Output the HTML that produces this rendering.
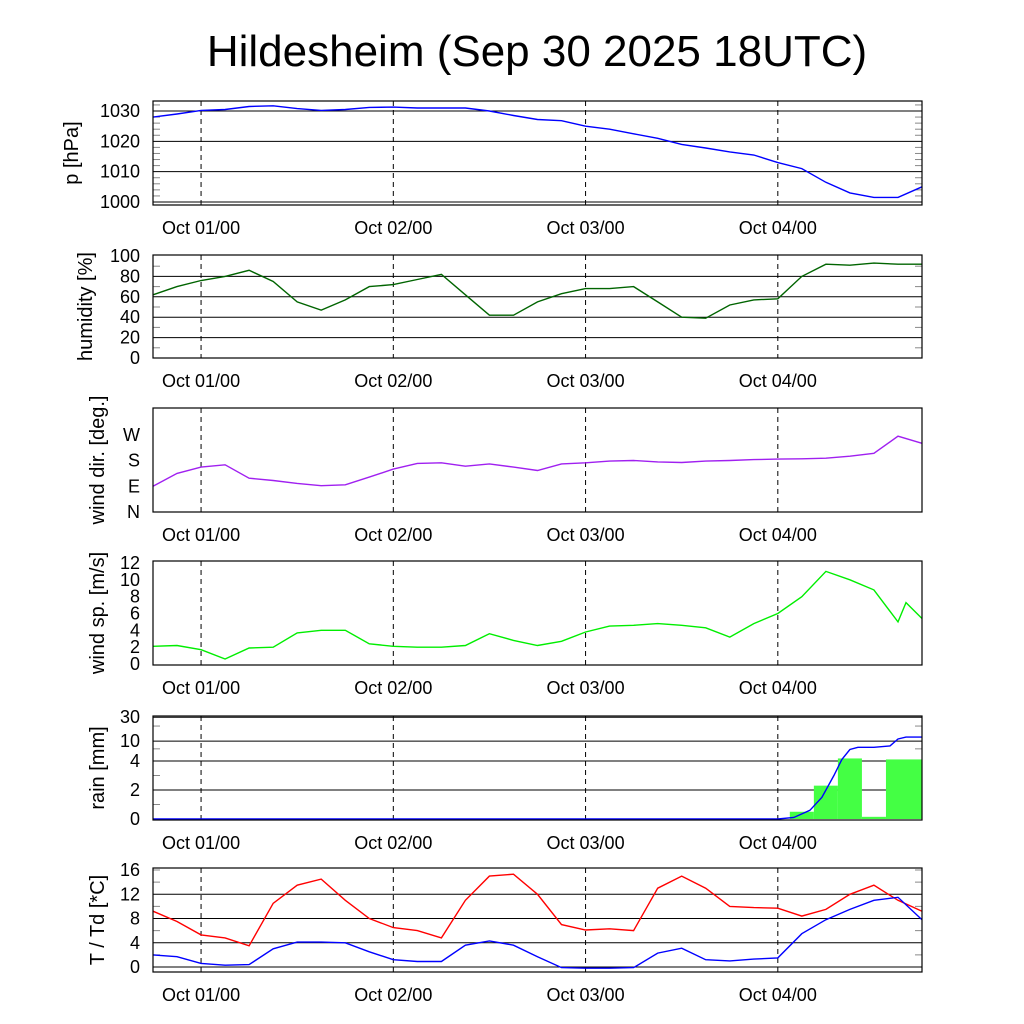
<!DOCTYPE html>
<html><head><meta charset="utf-8">
<style>
body{margin:0;background:#fff;}
svg{display:block;font-family:"Liberation Sans",sans-serif;}
</style></head>
<body>
<svg id="chart" width="1024" height="1024" viewBox="0 0 1024 1024" xmlns="http://www.w3.org/2000/svg">
<text x="537" y="66" font-size="44" text-anchor="middle">Hildesheim (Sep 30 2025 18UTC)</text>
</svg>
<script>
// hours since Sep 30 18UTC
const hours = [0,3,6,9,12,15,18,21,24,27,30,33,36,39,42,45,48,51,54,57,60,63,66,69,72,75,78,81,84,87,90,93,96];
const pressure = [1028,1029,1030.2,1030.5,1031.5,1031.7,1030.8,1030.2,1030.5,1031.2,1031.3,1031,1031,1031,1030,1028.5,1027.2,1026.8,1025,1024,1022.5,1021,1019,1017.8,1016.5,1015.5,1013,1011,1006.5,1003,1001.5,1001.5,1005];
const humidity = [62,70,76,80,86,75,55,47,57,70,72,77,82,62,42,42,55,63,68,68,70,55,40,39,52,57,58,80,92,91,93,92,92];
const windDir = [90,135,157,165,118,110,100,92,95,122,150,170,172,160,168,157,145,168,172,178,180,175,173,178,180,183,185,186,188,195,205,265,240];
const windHours = [0,3,6,9,12,15,18,21,24,27,30,33,36,39,42,45,48,51,54,57,60,63,66,69,72,75,78,81,84,87,90,93,94,96];
const windSpeed = [2.1,2.2,1.7,0.6,1.9,2.0,3.7,4.0,4.0,2.4,2.1,2.0,2.0,2.2,3.6,2.8,2.2,2.7,3.8,4.5,4.6,4.8,4.6,4.3,3.2,4.8,6.0,8.0,11.0,10.0,8.8,5.0,7.3,5.4];
const temperature = [9.2,7.5,5.3,4.8,3.5,10.5,13.5,14.5,11,8,6.5,6,4.8,11,15,15.3,12,7,6.1,6.3,6,13,15,13,10,9.8,9.7,8.4,9.5,12,13.5,11,9.2];
const dewpoint = [2.0,1.7,0.6,0.3,0.4,3.0,4.1,4.1,4.0,2.5,1.2,0.9,0.9,3.6,4.3,3.6,1.7,-0.1,-0.2,-0.2,-0.1,2.3,3.1,1.2,1.0,1.3,1.5,5.5,7.8,9.5,11.0,11.5,7.8];
const rainHours = [0,78,80,82,83.5,85,86,87,88,90,92,93,94,96];
const rainCum = [0,0,0.1,0.6,1.5,3,4.3,6.8,7.5,7.5,8,11,12,12];
const rainBinEdges = [79.5,82.5,85.5,88.5,91.5,96];
const rainBars = [0.5,2.3,4.5,0.15,4.3];
const dayHours = [6,30,54,78];
const dayLabels = ["Oct 01/00","Oct 02/00","Oct 03/00","Oct 04/00"];

const NS="http://www.w3.org/2000/svg";
const svg=document.getElementById('chart');
const X0=153,X1=922;
const xs=h=>X0+h*(X1-X0)/96;
function mk(tag,attrs,parent){const e=document.createElementNS(NS,tag);for(const k in attrs)e.setAttribute(k,attrs[k]);(parent||svg).appendChild(e);return e;}

function panel(cfg){
  const g=mk('g',{});
  
  
  const y=cfg.y;
  cfg.grid.forEach(v=>{const l=mk('line',{x1:X0,x2:X1,y1:y(v),y2:y(v),stroke:'#000','stroke-width':1},g);
    
    });
  (cfg.minor||[]).forEach(v=>{mk('line',{x1:X0,x2:X0+7,y1:y(v),y2:y(v),stroke:'#888','stroke-width':1},g);mk('line',{x1:X1-7,x2:X1,y1:y(v),y2:y(v),stroke:'#888','stroke-width':1},g);});
  dayHours.forEach((h,i)=>{const l=mk('line',{x1:xs(h),x2:xs(h),y1:cfg.top,y2:cfg.bot,stroke:'#000','stroke-dasharray':'5,4','stroke-width':1},g);
    
    
    const t=mk('text',{x:xs(h),y:cfg.bot+29,'font-size':18,'text-anchor':'middle'},g);t.textContent=dayLabels[i];
    
    });
  cfg.ticks.forEach((v,i)=>{const t=mk('text',{x:X0-13,y:y(v)+6,'font-size':18,'text-anchor':'end'},g);t.textContent=cfg.tickLabels[i];
    
    });
  const cy=(cfg.top+cfg.bot)/2;
  const tt=mk('text',{x:0,y:0,'font-size':20,'text-anchor':'middle',transform:`translate(${cfg.tx},${cy}) rotate(-90)`},g);tt.textContent=cfg.title;
  
  
  if(cfg.draw)cfg.draw(g,y);
  const r=mk('rect',{x:X0,y:cfg.top,width:X1-X0,height:cfg.bot-cfg.top,fill:'none',stroke:'#000','stroke-width':1.2},g);
  
  
}
function line(g,hs,vals,y,color,name){
  const d=hs.map((h,i)=>(i?'L':'M')+xs(h).toFixed(1)+','+y(vals[i]).toFixed(1)).join(' ');
  const p=mk('path',{d:d,fill:'none',stroke:color,'stroke-width':1.4},g);
  
  
}
function lin(v0,y0,v1,y1){return v=>y0+(v-v0)*(y1-y0)/(v1-v0);}

panel({name:'pressure',top:101,bot:205,y:lin(1000,202,1030,111),grid:[1000,1010,1020,1030],
  minor:[1002,1004,1006,1008,1012,1014,1016,1018,1022,1024,1026,1028,1032],
  ticks:[1000,1010,1020,1030],tickLabels:['1000','1010','1020','1030'],title:'p [hPa]',tx:78,
  draw:(g,y)=>line(g,hours,pressure,y,'#0000ff','pressure-line')});
panel({name:'humidity',top:255,bot:358,y:lin(0,358,100,256),grid:[20,40,60,80],
  minor:[10,30,50,70,90],
  ticks:[0,20,40,60,80,100],tickLabels:['0','20','40','60','80','100'],title:'humidity [%]',tx:92,
  draw:(g,y)=>line(g,hours,humidity,y,'#006400','humidity-line')});
panel({name:'wind-direction',top:408,bot:512,y:lin(0,512,360,409),grid:[],
  ticks:[0,90,180,270],tickLabels:['N','E','S','W'],title:'wind dir. [deg.]',tx:104,
  draw:(g,y)=>line(g,hours,windDir,y,'#a020f0','wind-direction-line')});
panel({name:'wind-speed',top:561,bot:665,y:lin(0,664,12,563),grid:[],
  ticks:[0,2,4,6,8,10,12],tickLabels:['0','2','4','6','8','10','12'],title:'wind sp. [m/s]',tx:104,
  draw:(g,y)=>line(g,windHours,windSpeed,y,'#00ee00','wind-speed-line')});
const rainY=v=>v<=4?819-v*14.5:761-Math.log10(v/4)*50;
panel({name:'rain',top:716,bot:820,y:rainY,grid:[2,4,10,30],
  minor:[1,3,7,20],
  ticks:[0,2,4,10,30],tickLabels:['0','2','4','10','30'],title:'rain [mm]',tx:104,
  draw:(g,y)=>{
    rainBars.forEach((v,i)=>{const x0=xs(rainBinEdges[i]),x1=xs(rainBinEdges[i+1]);
      const r=mk('rect',{x:x0,y:y(v),width:x1-x0,height:819-y(v),fill:'#44ff44'},g);
      
      });
    line(g,rainHours,rainCum,y,'#0000ff','rain-cumulative-line');
  }});
panel({name:'temperature',top:868,bot:972,y:lin(0,967,16,870),grid:[0,4,8,12],
  minor:[2,6,10,14,16],
  ticks:[0,4,8,12,16],tickLabels:['0','4','8','12','16'],title:'T / Td [*C]',tx:104,
  draw:(g,y)=>{line(g,hours,temperature,y,'#ff0000','temperature-line');line(g,hours,dewpoint,y,'#0000ff','dewpoint-line');}});
</script>
</body></html>
